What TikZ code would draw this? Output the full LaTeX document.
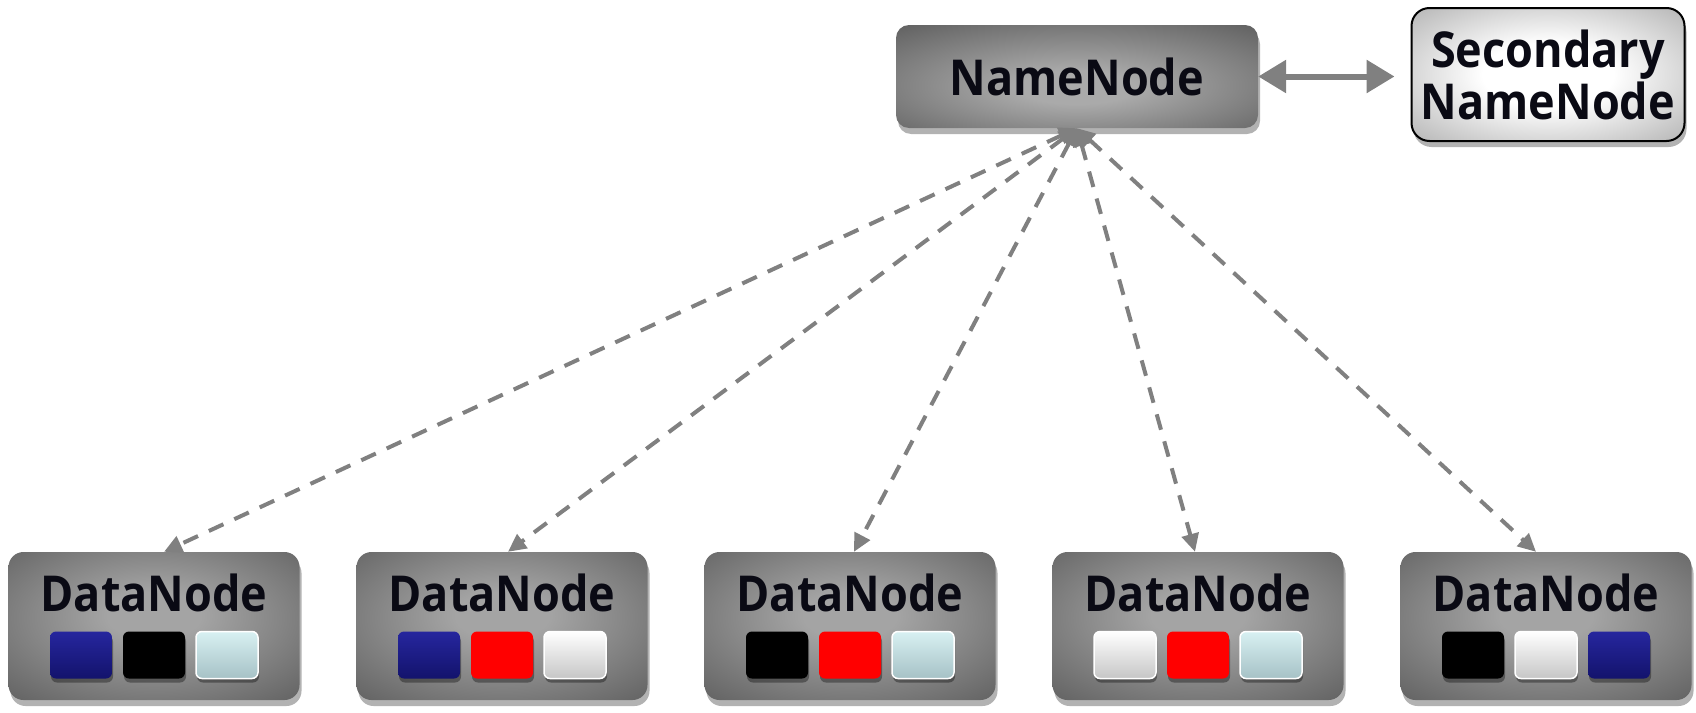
\documentclass[tikz,border=0pt]{standalone}
\usepackage{fontspec}
\usepackage{graphicx}
\setmainfont{Open Sans}
\usetikzlibrary{arrows.meta,shadows}
\newcommand{\talltxt}[1]{\scalebox{1}[1.1]{#1}}
\definecolor{dnlight}{HTML}{A4A4A4}
\definecolor{dndark}{HTML}{454545}
\definecolor{nnlight}{HTML}{AAAAAA}
\definecolor{nndark}{HTML}{424242}
\definecolor{snlight}{HTML}{FFFFFF}
\definecolor{sndark}{HTML}{888888}
\definecolor{arrowgray}{HTML}{808080}
\definecolor{txt}{HTML}{0A0A14}
\definecolor{navytop}{HTML}{26269E}
\definecolor{navybot}{HTML}{13136C}
\definecolor{cyantop}{HTML}{D8F0F2}
\definecolor{cyanbot}{HTML}{A6C2C6}
\definecolor{whtop}{HTML}{FFFFFF}
\definecolor{whbot}{HTML}{C6C6C6}
\pgfdeclareradialshading{dnshade}{\pgfpoint{0bp}{4bp}}{color(0bp)=(dnlight); color(8bp)=(dnlight); color(50bp)=(dndark); color(75bp)=(dndark)}
\pgfdeclareradialshading{nnshade}{\pgfpoint{0bp}{-6bp}}{color(0bp)=(nnlight); color(8bp)=(nnlight); color(50bp)=(nndark); color(75bp)=(nndark)}
\pgfdeclareradialshading{snshade}{\pgfpoint{0bp}{0bp}}{color(0bp)=(snlight); color(12bp)=(snlight); color(50bp)=(sndark); color(75bp)=(sndark)}
\tikzset{
  boxshadow/.style={drop shadow={shadow xshift=2pt,shadow yshift=-6pt,opacity=0.3,fill=black}},
  dnbox/.style={rectangle,rounded corners=15pt,minimum width=291pt,minimum height=148pt,shading=dnshade,boxshadow},
  nnbox/.style={rectangle,rounded corners=13pt,minimum width=362pt,minimum height=103pt,shading=nnshade,boxshadow,
    font=\fontsize{45}{52}\selectfont\bfseries,text=txt},
  snbox/.style={rectangle,rounded corners=18pt,minimum width=273pt,minimum height=133pt,shading=snshade,draw=black,line width=2pt,boxshadow,
    font=\fontsize{45}{52}\selectfont\bfseries,text=txt,align=center},
  dntext/.style={font=\fontsize{45}{52}\selectfont\bfseries,text=txt,inner sep=0pt},
  sq/.style={rectangle,rounded corners=6pt,minimum width=62pt,minimum height=47pt,inner sep=0pt,
    drop shadow={shadow xshift=1pt,shadow yshift=-4pt,opacity=0.35,fill=black}},
  navysq/.style={sq,top color=navytop,bottom color=navybot},
  blacksq/.style={sq,fill=black},
  redsq/.style={sq,fill=red},
  cyansq/.style={sq,top color=cyantop,bottom color=cyanbot,draw=white,line width=1.5pt},
  whitesq/.style={sq,top color=whtop,bottom color=whbot,draw=white,line width=1.5pt},
  dasharrow/.style={draw=arrowgray,line width=4pt,dash pattern=on 16pt off 12pt,
    {Triangle[length=18pt,width=17pt]}-{Triangle[length=18pt,width=17pt]}},
  bigarrow/.style={draw=arrowgray,line width=6pt,
    {Triangle[length=28pt,width=32pt]}-{Triangle[length=28pt,width=32pt]}}
}
\begin{document}
\begin{tikzpicture}[x=1pt,y=-1pt]
\useasboundingbox (0,0) rectangle (1696,712);
\node[nnbox] (nn) at (1077,76.5) {\talltxt{NameNode}};
\node[snbox] (sn) at (1548,74.5) {\talltxt{Secondary}\\\talltxt{NameNode}};
\draw[bigarrow,shorten >=16pt] (nn.east) -- (nn.east -| sn.west);
\foreach \i/\x/\a/\b/\c/\dx in {1/154/navysq/blacksq/cyansq/10,
                               2/502/navysq/redsq/whitesq/6,
                               3/850/blacksq/redsq/cyansq/4,
                               4/1198/whitesq/redsq/cyansq/-3,
                               5/1546/blacksq/whitesq/navysq/-10}{
  \node[dnbox] (dn\i) at (\x,626) {};
  \node[dntext] (dn\i-t) at (\x,593) {\talltxt{DataNode}};
  \node[\a] (dn\i-a) at (\x-73,655) {};
  \node[\b] (dn\i-b) at (\x,655) {};
  \node[\c] (dn\i-c) at (\x+73,655) {};
  \draw[dasharrow] (nn.south) -- ([xshift=\dx pt]dn\i.north);
}
\end{tikzpicture}
\end{document}
